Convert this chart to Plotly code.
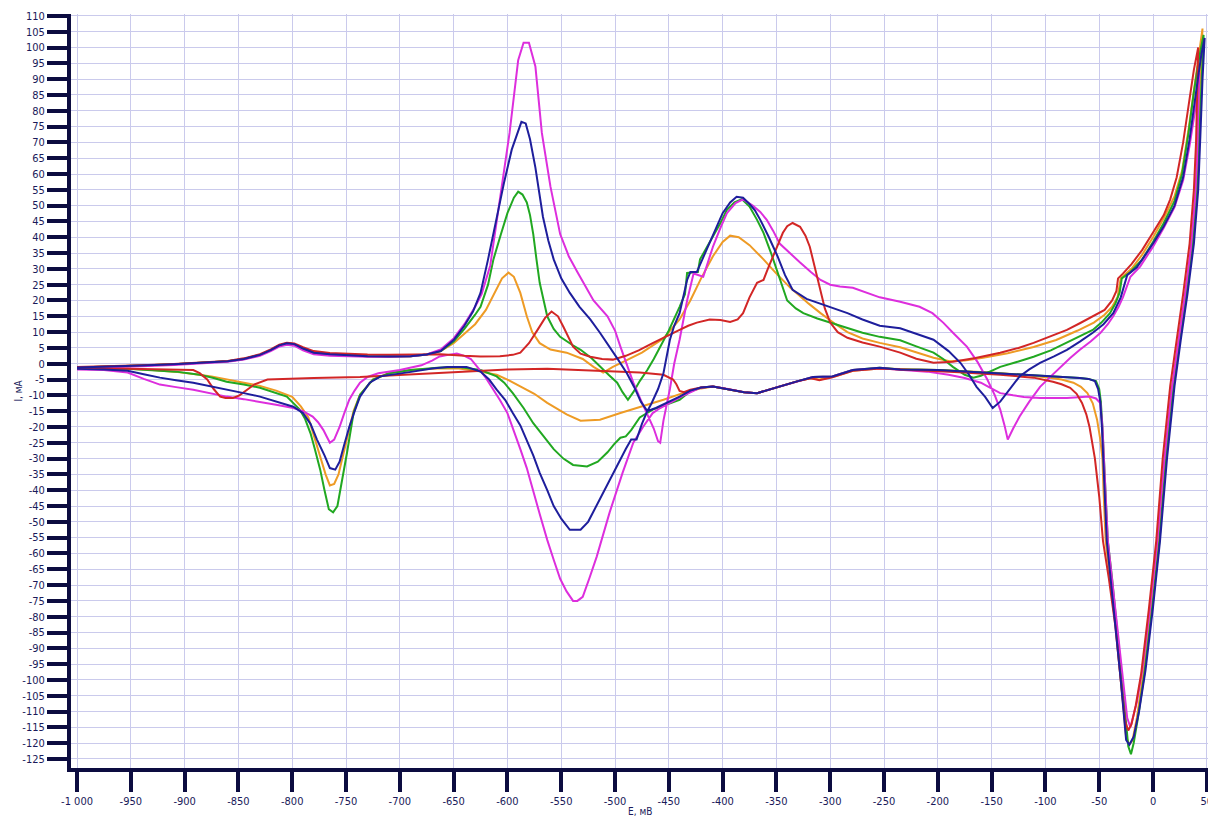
import plotly.graph_objects as go

# ---- cyclic voltammograms: forward (anodic) and reverse (cathodic) sweeps ----

# shared start of the forward sweep, -1000 .. -662 mV
E_fwd_base = [-1000, -970, -940, -910, -880, -860, -845, -830, -820, -812, -805, -798,
              -790, -780, -765, -750, -730, -710, -690, -675, -662]
I_fwd_base = [-1.2, -1.0, -0.6, -0.2, 0.3, 0.8, 1.5, 2.8, 4.3, 5.8, 6.5, 6.2,
              4.8, 3.5, 3.0, 2.7, 2.4, 2.3, 2.4, 2.9, 4.0]

# orange
E_fwd_orange = [-650, -640, -630, -620, -612, -605, -599, -594, -588, -582, -577, -570, -560, -545,
                -530, -520, -511, -502, -490, -475, -455, -440, -430, -420, -409, -400, -393, -385,
                -375, -362, -350, -337, -320, -309, -295, -284, -270, -254, -235, -220, -204, -189,
                -175, -158, -135, -111, -90, -70, -55, -45, -38, -33, -30, -20, -10, 0, 10, 20, 27,
                33, 38, 42, 46]
I_fwd_orange = [6.5, 9.5, 12.5, 17, 22.5, 27, 28.8, 27.5, 22.4, 15, 10, 6.5, 4.5, 3.5,
                1.5, -1, -2.8, -1, 1, 3.5, 8, 14, 20, 27, 34, 38.5, 40.5, 40,
                37.5, 33, 28.5, 24, 19, 16, 12.5, 10, 8, 6.6, 5.2, 3.5, 1.9, 0.8,
                1.0, 1.9, 3.3, 5.3, 7.5, 10.5, 13, 15.5, 18, 21, 27, 30, 34.5, 40, 46, 53, 61,
                74, 86, 97, 106]
E_rev_orange = [46, 44, 42, 40, 36, 30, 24, 18, 11, 5, -2, -9, -15, -19, -22, -25, -30, -35, -40,
                -44, -46, -47, -49, -52, -56, -61, -67, -74, -85, -96, -120, -150, -200, -235, -254,
                -279, -298, -310, -318, -330, -347, -368, -380, -395, -409, -420, -437, -455, -477,
                -495, -514, -532, -545, -555, -563, -575, -588, -600, -610, -625, -645, -665, -690,
                -710, -725, -737, -743, -748, -753, -757, -761, -765, -769, -775, -780, -785, -792,
                -800, -815, -830, -845, -860, -875, -890, -910, -930, -953, -1000]
I_rev_orange = [106, 92, 74, 56, 38, 22, 8, -7, -30, -56, -78, -98, -112, -119, -120.5, -118, -100,
                -82, -68, -56, -40, -30, -24, -17.7, -12.5, -9.3, -7.3, -6, -5, -4.4, -3.5, -2.8, -2,
                -1.8, -1.5, -2.2, -4.2, -5, -4.6, -5.5, -7.2, -9.3, -9, -8, -7.2, -7.8, -9.3, -11.4,
                -13.6, -15.6, -17.7, -18, -16, -14, -12.4, -9.5, -7.2, -5, -3.5, -2.5, -1.5, -1.5,
                -2, -3, -5, -9.8, -15, -22, -30, -35, -38, -38.5, -35, -28, -22, -17, -13.5, -10.5,
                -8.5, -7, -6, -5, -4, -3.3, -2.5, -2, -1.6, -1.5]

# green
E_fwd_green = [-650, -640, -630, -625, -618, -613, -606, -600, -594, -590, -586, -582, -579, -576,
               -573, -570, -566, -563, -557, -551, -540, -532, -522, -514, -506, -498, -493, -488,
               -483, -477, -470, -464, -458, -450, -440, -435, -433, -423, -421, -415, -409, -402,
               -396, -389, -382, -375, -368, -362, -355, -349, -344, -340, -332, -325, -312, -300,
               -285, -270, -254, -235, -220, -204, -195, -186, -175, -167, -160, -154, -142, -125,
               -111, -95, -80, -65, -56, -48, -40, -35, -31, -29, -21, -10, 0, 10, 20, 27, 33, 38,
               43, 47]
I_fwd_green = [7, 11, 15.5, 18, 25, 33, 41, 47.6, 52.5, 54.4, 53.5, 51, 47, 41,
               33, 25.6, 19.5, 15, 11, 8.5, 6, 4.4, 1.8, -1, -3.5, -6, -9, -11.4,
               -9, -5.5, -2, 1.5, 5.4, 10.5, 18, 22, 28.7, 29, 33, 36.5, 40, 44.5,
               48.7, 51, 52, 49.7, 45.5, 41.4, 35, 28.7, 23.5, 20, 17.5, 16, 14.3, 13,
               11.4, 9.8, 8.5, 7.4, 5.5, 3.5, 1.5, -1, -3.5, -4.4, -3.8, -2.8, -1, 0.7,
               2.2, 4.2, 6.6, 9, 10.7, 13, 16, 19, 22.5, 27, 29, 33, 38.5, 44.5, 51.5, 60, 73, 86,
               97, 104]
E_rev_green = [47, 45, 43, 41, 37, 31, 25, 19, 12, 6, -1, -8, -14, -18, -20.5, -23, -28, -33, -38,
               -42, -44, -45.5, -47, -48.5, -50, -53, -60, -68, -100, -150, -200, -235, -254, -279,
               -298, -316, -330, -347, -358, -368, -380, -395, -409, -420, -430, -440, -452, -465,
               -477, -485, -490, -495, -501, -507, -516, -526, -539, -548, -557, -566, -576, -585,
               -595, -603, -610, -625, -645, -665, -690, -710, -725, -737, -743, -749, -754, -758,
               -762, -766, -770, -774, -779, -783, -788, -793, -805, -817, -830, -845, -861, -873,
               -886, -908, -930, -953, -1000]
I_rev_green = [104, 90, 72, 55, 38, 22, 8, -7, -30, -56, -78, -98, -112, -120, -123.5, -121, -103,
               -85, -68, -56, -40, -30, -20, -12, -8, -5.5, -4.8, -4.5, -3.8, -2.9, -2, -1.8, -1.3,
               -2, -4, -4.2, -5.5, -7.2, -8.5, -9.3, -9, -8, -7.2, -7.5, -8.7, -11.4, -13, -14.5,
               -17, -21, -23, -23.4, -25.5, -28, -31, -32.5, -32, -30, -27, -23, -18.8, -14,
               -9.3, -6, -4, -2, -1, -1.3, -2, -3, -5, -9.8, -15.6, -28, -38, -45,
               -47, -46, -40, -33.5, -27, -22, -17.5, -14.5, -10.4, -9, -7.6, -6.6, -5.7, -4.5,
               -3.5, -2.5, -2, -1.6, -1.6]

# magenta
E_fwd_magenta = [-650, -640, -630, -624, -616, -607, -598, -590, -585, -580, -574, -568, -560, -551,
                 -543, -535, -527, -520, -507, -500, -495, -489, -483, -476, -470, -464, -460, -458,
                 -455, -449, -445, -440, -433, -427, -418, -414, -409, -402, -396, -388, -381, -372,
                 -365, -359, -353, -347, -338, -328, -318, -309, -300, -291, -279, -266, -254, -235,
                 -217, -205, -195, -185, -173, -163, -154, -147, -142, -138, -135, -130, -124, -115,
                 -105, -95, -86, -77, -68, -58, -49, -42, -37, -32, -28, -24, -21, -12, 0, 10, 20,
                 28, 34, 39, 43]
I_fwd_magenta = [8, 12.5, 18, 22, 31, 52, 73, 96, 101.5, 101.5, 94, 73, 56, 41,
                 34, 29, 24, 20, 15, 10.5, 5.4, 0, -6, -11.5, -16, -20.5, -24.5, -25,
                 -18, -8, 0, 7.6, 20, 28.5, 27.5, 32, 37, 43, 47.6, 50.8, 52, 50,
                 48, 45.5, 42, 38, 35, 32, 29, 26.5, 25, 24.4, 24, 22.4, 21, 19.6,
                 18, 16, 13, 9.5, 5.4, 0.5, -5, -10, -14.5, -19.5, -24, -20.5, -16.7, -12,
                 -7.3, -4, -1, 1.8, 4.4, 7, 9.7, 12.5, 15, 18, 21, 24.5, 27.5, 30.7, 37, 43, 49.5,
                 58, 69, 80, 92]
E_rev_magenta = [43, 42, 41, 39, 35, 29, 23, 17, 10, 4, -3, -10, -15, -19, -21, -24, -28, -33, -38,
                 -42, -44, -45.5, -47, -49, -53, -59, -70, -80, -105, -120, -130, -142, -152, -160,
                 -175, -190, -210, -235, -254, -279, -298, -316, -330, -347, -368, -380, -395, -409,
                 -421, -435, -449, -458, -465, -474, -483, -493, -505, -511, -517, -524, -530, -535,
                 -539, -545, -551, -557, -563, -570, -576, -582, -588, -594, -600, -607, -613, -620,
                 -628, -634, -640, -647, -655, -663, -670, -680, -700, -720, -730, -737, -742, -747,
                 -752, -756, -761, -765, -768, -771, -776, -781, -790, -799, -815, -830, -845, -861,
                 -876, -892, -908, -923, -938, -953, -975, -1000]
I_rev_magenta = [92, 80, 65, 52, 36, 20, 6, -9, -32, -56, -78, -97, -107, -113, -115, -112, -100,
                 -85, -70, -56, -42, -30, -20, -12.4, -11, -10.4, -10.6, -10.8, -10.8, -10.5, -10,
                 -9.3, -7.5, -6, -4.5, -3.5, -2.5, -2, -1.4, -2, -4, -4.2, -5.5, -7.2, -9.3, -9, -8,
                 -7.2, -7.6, -9.8, -12.4, -14, -15.6, -20, -25, -34.5, -47, -54, -61, -68, -73.7,
                 -75, -75, -72, -68, -62, -55.7, -47.5, -40, -33, -27, -21, -15.6, -11.5, -8.2,
                 -4.5, -1, 1.5, 2.5, 3.2, 2.8, 2.3, 1, -0.5, -2, -3, -4.2, -6, -8.5, -11.4,
                 -16, -20, -24, -25, -23, -21, -18.5, -16.7, -15, -14, -13, -12, -11.2, -10.4,
                 -9.3, -8.2, -7.4, -6.6, -4.8, -2.8, -2, -1.8]

# red
E_fwd_red = [-662, -640, -625, -607, -595, -588, -580, -572, -565, -559, -553, -548, -543, -539,
             -532, -523, -512, -502, -490, -478, -465, -452, -440, -432, -424, -412, -402, -393,
             -386, -381, -375, -368, -362, -358, -353, -348, -344, -340, -335, -328, -323, -319,
             -314, -309, -305, -300, -293, -284, -270, -254, -235, -220, -204, -186, -165, -142,
             -125, -111, -95, -80, -68, -56, -45, -38, -34, -32.5, -28, -20, -10, 0, 10, 16, 22,
             28, 33, 38, 42]
I_fwd_red = [3.0, 2.5, 2.3, 2.4, 2.8, 3.5, 6.5, 10.7, 14.5, 16.5, 15, 11.7, 8, 5.4,
             3.2, 2.2, 1.5, 1.3, 2.5, 4.2, 6.5, 8.8, 10.7, 12, 13, 14, 13.8, 13.2,
             14, 16, 21, 25.6, 26.5, 30, 34, 38, 41.4, 43.5, 44.5, 43.3, 40.5, 37,
             30, 23.4, 17.5, 13, 10, 8.2, 6.7, 5.4, 3.5, 1.6, 0.3, 0.6, 1.8, 3.5,
             5, 6.6, 8.6, 10.7, 12.8, 15, 17, 20, 23, 27, 28.5, 31.5, 36, 41.5, 47, 52, 59,
             70, 82, 93, 100]
E_rev_red = [42, 41, 40, 38, 34, 28, 22, 16, 9, 3, -4, -11, -16, -20, -23, -26, -30, -35, -41,
             -46.5, -50, -54, -57, -59, -62, -66, -71, -77, -85, -93, -111, -142, -180, -210, -235,
             -254, -279, -298, -310, -318, -330, -347, -368, -380, -395, -409, -420, -430, -436,
             -440, -443, -446, -455, -477, -517, -563, -600, -625, -660, -700, -737, -780, -810,
             -823, -835, -842, -849, -855, -862, -867, -873, -879, -886, -892, -920, -953, -1000]
I_rev_red = [100, 85, 70, 55, 38, 22, 8, -7, -30, -56, -78, -98, -108, -114, -116, -113, -100, -83,
             -68, -56, -42, -30, -24, -20, -16, -12.4, -9.5, -7.6, -6.5, -5.7, -4.4, -3.5, -2.7,
             -2.2, -2, -1.5, -2.2, -4.3, -5.2, -4.6, -5.5, -7.2, -9.3, -9, -8, -7.2, -7.5, -8.2,
             -9, -8.6, -6.5, -5, -3.5, -2.8, -2.2, -1.6, -1.8, -2.2, -2.8, -3.5, -4.2, -4.5, -4.7,
             -5, -6.5, -8.2, -10, -10.8, -10.8, -10.4, -8, -5, -3, -2, -1.8, -1.6, -1.5]

# blue
E_fwd_blue = [-650, -640, -632, -625, -618, -610, -603, -596, -590, -587, -583, -579, -574, -570,
              -567, -562, -557, -550, -542, -533, -523, -514, -505, -497, -489, -482, -476, -470,
              -466, -460, -455, -449, -445, -440, -433, -430, -424, -419, -414, -407, -400, -393,
              -387, -381, -375, -370, -365, -357, -349, -342, -335, -322, -309, -296, -284, -270,
              -254, -235, -220, -204, -190, -179, -171, -164, -156, -149, -142, -136, -130, -124,
              -115, -105, -92, -80, -68, -56, -46, -37, -30, -26, -24, -15, 0, 10, 20, 28, 34, 40,
              45, 48]
I_fwd_blue = [7.5, 12, 16.5, 22.4, 33, 46.5, 57.5, 67.7, 74, 76.5, 76, 71, 62, 53.5,
              46.5, 39, 33, 27, 22.4, 18, 14, 9.8, 5.4, 1.2, -3, -7.5, -12, -15,
              -12.5, -8, -3, 7.6, 12, 16, 26.5, 29, 29, 33, 37, 42.5, 47.6, 51,
              52.8, 52.5, 50.5, 48.5, 45.5, 40, 34, 28, 23.4, 20.5, 19, 17.5, 16, 14,
              12, 11.2, 9.5, 7.6, 4, 0.3, -3.5, -7.3, -10.5, -14, -12, -9.3, -6.5, -4,
              -1.8, 0.3, 2.3, 4.4, 7, 9.8, 12.5, 16, 21, 25.5, 28, 30.5, 38, 43.5, 50, 59, 71, 86,
              98, 103]
E_rev_blue = [48, 46, 44, 42, 38, 32, 26, 20, 13, 6.5, 0, -7, -13, -18, -22, -25, -30, -35, -40,
              -43, -45, -46, -47.5, -49, -51, -54, -60, -68, -100, -150, -200, -235, -254, -279,
              -298, -316, -330, -347, -358, -368, -380, -395, -409, -420, -430, -440, -452, -462,
              -470, -475, -480, -485, -490, -496, -502, -510, -517, -525, -532, -542, -550, -557,
              -563, -570, -576, -582, -588, -595, -602, -610, -617, -625, -638, -656, -670, -688,
              -705, -718, -728, -737, -742, -747, -752, -756, -760, -765, -770, -777, -783, -790,
              -799, -815, -830, -845, -861, -877, -892, -908, -923, -938, -953, -975, -1000]
I_rev_blue = [103, 90, 72, 55, 38, 22, 8, -7, -30, -56, -77, -97, -110, -118, -120.5, -119, -100,
              -82, -66, -56, -40, -30, -20, -12, -8, -5.5, -4.8, -4.5, -3.8, -2.9, -2, -1.8, -1.3,
              -2, -4, -4.2, -5.5, -7.2, -8.5, -9.3, -9, -8, -7.2, -7.5, -8.5, -10.4, -12.5, -14,
              -15, -19, -24, -24, -27, -31, -34.5, -40, -45, -50, -52.5, -52.5, -49, -45,
              -40, -34.5, -29, -24, -19.5, -15.6, -11.5, -8.2, -5, -2.5, -1, -1, -1.5, -2.5,
              -3.3, -4, -6, -10.4, -15, -20, -26, -31, -33.5, -33, -29, -24, -19, -15.6,
              -13.6, -12, -10.4, -9.3, -8.2, -7, -6, -5.2, -4.4, -3.3, -2.2, -1.8, -1.6]

# per-curve tweaks of the shared start (peak height near -810 mV, plateau level)
I_base_magenta = [-1.4, -1.2, -0.8, -0.4, 0.1, 0.6, 1.3, 2.5, 4.0, 5.4, 6.0, 5.7,
                  4.2, 3.0, 2.5, 2.3, 2.2, 2.2, 2.4, 2.9, 4.5]
I_base_red = [-1.0, -0.8, -0.5, -0.1, 0.4, 0.9, 1.7, 3.0, 4.5, 6.0, 6.6, 6.4,
              5.2, 4.0, 3.4, 3.1, 2.9, 2.8, 2.8, 3.0, 3.0]

colors = {"orange": "#EE9B25", "green": "#21A821", "magenta": "#DD2EDD",
          "red": "#D22626", "blue": "#1E1E9C"}

curves = [
    ("orange", I_fwd_base, E_fwd_orange, I_fwd_orange, E_rev_orange, I_rev_orange),
    ("green", I_fwd_base, E_fwd_green, I_fwd_green, E_rev_green, I_rev_green),
    ("magenta", I_base_magenta, E_fwd_magenta, I_fwd_magenta, E_rev_magenta, I_rev_magenta),
    ("red", I_base_red, E_fwd_red, I_fwd_red, E_rev_red, I_rev_red),
    ("blue", I_fwd_base, E_fwd_blue, I_fwd_blue, E_rev_blue, I_rev_blue),
]

# axis ticks
x_ticks = list(range(-1000, 51, 50))
y_ticks = list(range(-125, 111, 5))
x_ticktext = [f"{v:,}".replace(",", " ") for v in x_ticks]
y_ticktext = [str(v) for v in y_ticks]

fig = go.Figure()
for name, base_I, Ef, If, Er, Ir in curves:
    xs = E_fwd_base + Ef + Er
    ys = base_I + If + Ir
    fig.add_trace(go.Scatter(x=xs, y=ys, mode="lines", name=name,
                             line=dict(color=colors[name], width=2),
                             showlegend=False, hoverinfo="skip"))

axis_col = "#0C0C40"
tick_font = dict(family="Tahoma, 'DejaVu Sans Condensed', 'Liberation Sans', sans-serif",
                 size=11, color="#1A1A5A")

fig.update_xaxes(range=[-1005.6, 51.1], tickvals=x_ticks, ticktext=x_ticktext,
                 showline=True, linecolor=axis_col, linewidth=4,
                 ticks="outside", ticklen=20, tickwidth=4, tickcolor=axis_col,
                 showgrid=True, gridcolor="#CACAEC", gridwidth=1,
                 zeroline=False, tickfont=tick_font, mirror=False,
                 ticklabeloverflow="allow", automargin=False)
fig.update_yaxes(range=[-127.85, 110.6], tickvals=y_ticks, ticktext=y_ticktext,
                 showline=True, linecolor=axis_col, linewidth=4,
                 ticks="outside", ticklen=20, tickwidth=4, tickcolor=axis_col,
                 showgrid=True, gridcolor="#CACAEC", gridwidth=1,
                 zeroline=False, tickfont=tick_font, mirror=False, automargin=False)

title_font = dict(family="Tahoma, 'DejaVu Sans Condensed', 'Liberation Sans', sans-serif",
                  size=10, color="#1A1A5A")
fig.add_annotation(text="E, мВ", xref="paper", yref="paper", x=0.5, y=-0.058,
                   showarrow=False, font=title_font, xanchor="center", yanchor="middle")
fig.add_annotation(text="I, мА", xref="paper", yref="paper", x=-0.047, y=0.50,
                   showarrow=False, font=title_font, textangle=-90,
                   xanchor="center", yanchor="middle")

fig.update_layout(width=1208, height=816,
                  margin=dict(l=71, r=0, t=14, b=48, autoexpand=False),
                  paper_bgcolor="white", plot_bgcolor="white")

fig.write_html("out.html")
